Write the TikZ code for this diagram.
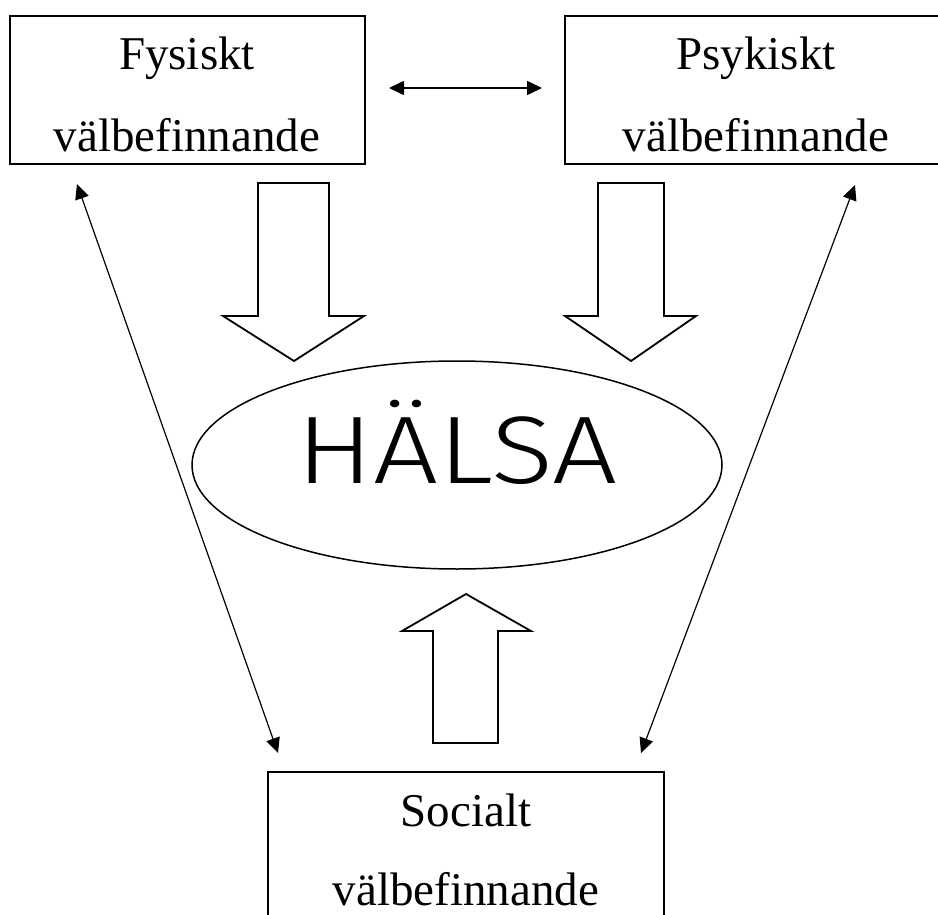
\documentclass[tikz,border=0pt]{standalone}
\usepackage{fontspec}
\setmainfont{Liberation Serif}
\newfontfamily\hfont{Fira Sans Light}
\usetikzlibrary{arrows.meta,shapes.geometric}
\tikzset{
  boxnode/.style={draw, line width=1.8pt, inner sep=0pt, anchor=north west},
  lbl/.style={anchor=base, inner sep=0pt, font=\fontsize{47}{56}\selectfont},
  blockarrow/.style={draw, line width=1.8pt, line join=miter},
  thinarrow/.style={line width=1.2pt, {Triangle[length=15pt,width=14pt]}-{Triangle[length=15pt,width=14pt]}},
}
\begin{document}
\begin{tikzpicture}[x=1pt,y=-1pt]
\useasboundingbox (0,0) rectangle (938,915);
\clip (0,0) rectangle (938,915);
% boxes
\node[boxnode, minimum width=355pt, minimum height=148pt] (fys) at (9,15) {};
\node[boxnode, minimum width=420pt, minimum height=148pt] (psy) at (564,15) {};
\node[boxnode, minimum width=396pt, minimum height=260pt] (soc) at (267,771) {};
% labels
\node[lbl] (fys1) at (187,70) {Fysiskt};
\node[lbl] (fys2) at (187,152) {välbefinnande};
\node[lbl] (psy1) at (756,70) {Psykiskt};
\node[lbl] (psy2) at (756,152) {välbefinnande};
\node[lbl] (soc1) at (466,826) {Socialt};
\node[lbl] (soc2) at (466,905) {välbefinnande};
% ellipse
\node[draw, line width=1.5pt, ellipse, minimum width=530pt, minimum height=208pt, inner sep=0pt] (halsa) at (457,465) {};
\node[anchor=base, inner sep=0pt, font=\hfont\fontsize{96}{100}\selectfont] (halsatxt) at (457,483) {\scalebox{1.2}[1]{HÄLSA}};
% block arrows
\draw[blockarrow] (258,183) -- (329,183) -- (329,316) -- (364,316) -- (294,361) -- (223,316) -- (258,316) -- cycle;
\draw[blockarrow] (598,183) -- (664,183) -- (664,316) -- (696,316) -- (631,361) -- (565,316) -- (598,316) -- cycle;
\draw[blockarrow] (433,743) -- (498,743) -- (498,631) -- (531,631) -- (466,594) -- (402,631) -- (433,631) -- cycle;
% thin arrows
\coordinate (h1) at (389,88);
\coordinate (h2) at (542,88);
\coordinate (l1) at (77,184);
\coordinate (l2) at (278,753);
\coordinate (r1) at (855,185);
\coordinate (r2) at (641,753);
\draw[thinarrow, line width=1.6pt] (h1) -- (h2);
\draw[thinarrow] (l1) -- (l2);
\draw[thinarrow] (r1) -- (r2);
\end{tikzpicture}
\end{document}
